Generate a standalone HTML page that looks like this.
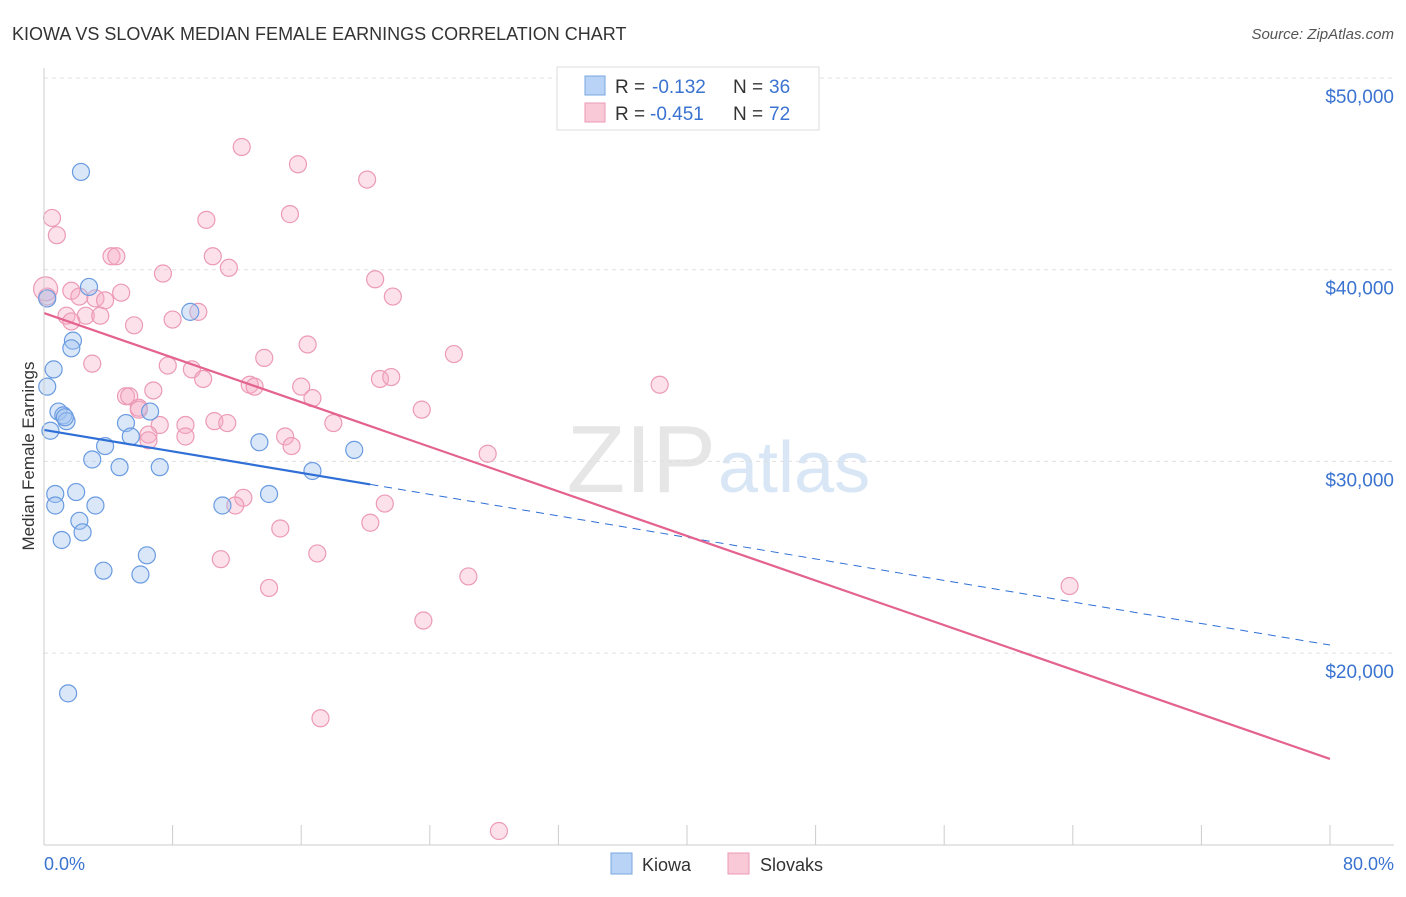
<!DOCTYPE html>
<html><head><meta charset="utf-8"><style>
body{margin:0;background:#fff;font-family:"Liberation Sans",sans-serif;}
svg text{font-family:"Liberation Sans",sans-serif;}
</style></head><body>
<svg id="c" width="1406" height="892">
<text x="12" y="40" font-size="18" fill="#333">KIOWA VS SLOVAK MEDIAN FEMALE EARNINGS CORRELATION CHART</text>
<text x="1394" y="39" font-size="15" fill="#555" font-style="italic" text-anchor="end">Source: ZipAtlas.com</text>
<text x="716" y="492" font-size="96" fill="#e6e6e6" text-anchor="end" font-family="Liberation Serif">ZIP</text>
<text x="718" y="492" font-size="72" fill="#d8e6f5">atlas</text>
<g id="grid"></g><g id="pts"></g><g id="lines"></g>
<line x1="44" y1="845" x2="1394" y2="845" stroke="#ccc"/>
<line x1="44" y1="68" x2="44" y2="845" stroke="#ccc"/>
<text x="44" y="870" font-size="18" fill="#3a73d0">0.0%</text>
<text x="1394" y="870" font-size="18" fill="#3a73d0" text-anchor="end">80.0%</text>
<text x="34" y="456" font-size="17" fill="#333" text-anchor="middle" transform="rotate(-90 34 456)">Median Female Earnings</text>
<g>
<rect x="557" y="67" width="262" height="63" fill="#fff" stroke="#ddd"/>
<rect x="585" y="76" width="20" height="19" fill="#b8d3f5" stroke="#7aa7e0"/>
<rect x="585" y="103" width="20" height="19" fill="#f9c9d8" stroke="#ec9ab5"/>
<text x="615" y="93" font-size="19" fill="#333">R =</text>
<text x="652" y="93" font-size="19" fill="#3a73d0">-0.132</text>
<text x="733" y="93" font-size="19" fill="#333">N =</text>
<text x="769" y="93" font-size="19" fill="#3a73d0">36</text>
<text x="615" y="120" font-size="19" fill="#333">R =</text>
<text x="650" y="120" font-size="19" fill="#3a73d0">-0.451</text>
<text x="733" y="120" font-size="19" fill="#333">N =</text>
<text x="769" y="120" font-size="19" fill="#3a73d0">72</text>
</g>
<g>
<rect x="611" y="853" width="21" height="21" fill="#b8d3f5" stroke="#7aa7e0"/>
<text x="642" y="871" font-size="18" fill="#333">Kiowa</text>
<rect x="728" y="853" width="21" height="21" fill="#f9c9d8" stroke="#ec9ab5"/>
<text x="760" y="871" font-size="18" fill="#333">Slovaks</text>
</g>
</svg>
<script>
const yTicks=[20000,30000,40000,50000];
const yTickLabels=["$20,000","$30,000","$40,000","$50,000"];
const xTicks=[0,8,16,24,32,40,48,56,64,72,80];
const kiowaX=[2.3,0.2,2.8,1.8,1.7,0.6,0.2,0.9,1.2,1.4,0.4,5.1,6.6,9.1,5.4,3.8,3.0,4.7,7.2,13.4,19.3,16.7,0.7,0.7,2.0,3.2,2.2,2.4,1.1,11.1,14.0,6.4,3.7,6.0,1.5,1.3];
const kiowaY=[45100,38500,39100,36300,35900,34800,33900,32600,32400,32100,31600,32000,32600,37800,31300,30800,30100,29700,29700,31000,30600,29500,28300,27700,28400,27700,26900,26300,25900,27700,28300,25100,24300,24100,17900,32300];
const slovX=[0.5,0.8,0.2,12.3,15.8,20.1,15.3,10.1,4.2,4.5,10.5,11.5,7.4,20.6,21.7,1.7,2.2,3.2,3.8,4.8,1.4,2.6,3.5,5.6,8.0,9.6,1.7,16.4,25.5,13.7,3.0,7.7,9.2,9.9,20.9,21.6,38.3,12.8,13.1,16.0,6.8,5.1,5.3,16.7,5.9,23.5,8.8,10.6,11.4,18.0,7.2,6.5,8.8,6.5,15.0,15.4,27.6,12.4,11.9,21.2,20.3,14.7,11.0,17.0,26.4,14.0,63.8,23.6,17.2,28.3,0.1,5.9];
const slovY=[42700,41800,38600,46400,45500,44700,42900,42600,40700,40700,40700,40100,39800,39500,38600,38900,38600,38500,38400,38800,37600,37600,37600,37100,37400,37800,37300,36100,35600,35400,35100,35000,34800,34300,34300,34400,34000,34000,33900,33900,33700,33400,33400,33300,32800,32700,31900,32100,32000,32000,31900,31400,31300,31100,31300,30800,30400,28100,27700,27800,26800,26500,24900,25200,24000,23400,23500,21700,16600,10720,39000,32700];
const kiowaTrendX=[0,20.3,80];
const kiowaTrendY=[31640,28800,20420];
const slovTrendX=[0,80];
const slovTrendY=[37740,14480];
const X=v=>44+v/80*1286, Y=v=>78+(50000-v)/10000*191.7;
const ns="http://www.w3.org/2000/svg";
function mk(t,a,p){const e=document.createElementNS(ns,t);for(const k in a)e.setAttribute(k,a[k]);p.appendChild(e);return e;}
const g=document.getElementById('grid');
yTicks.forEach((v,i)=>{
 const l=mk('line',{x1:44,x2:1394,y1:Y(v),y2:Y(v),stroke:'#e0e0e0','stroke-dasharray':'4,4'},g);
 
 
 const t=mk('text',{x:1394,y:Y(v)+25,'font-size':19,fill:'#3a73d0','text-anchor':'end'},g);
 t.textContent=yTickLabels[i];
 
 
});
xTicks.forEach(v=>{
 const l=mk('line',{x1:X(v),x2:X(v),y1:825,y2:845,stroke:'#ccc'},g);
 
 
});
const p=document.getElementById('pts');
slovX.forEach((x,i)=>{
 const c=mk('circle',{cx:X(x),cy:Y(slovY[i]),r:i==70?12:8.5,fill:'rgba(246,170,195,0.35)',stroke:'#ec9ab5','stroke-width':1.2},p);
 
 
});
kiowaX.forEach((x,i)=>{
 const c=mk('circle',{cx:X(x),cy:Y(kiowaY[i]),r:8.5,fill:'rgba(160,195,240,0.4)',stroke:'#6a9be0','stroke-width':1.2},p);
 
 
});
const L=document.getElementById('lines');
let e=mk('line',{x1:X(kiowaTrendX[0]),y1:Y(kiowaTrendY[0]),x2:X(kiowaTrendX[1]),y2:Y(kiowaTrendY[1]),stroke:'#2f6fd6','stroke-width':2.2},L);


e=mk('line',{x1:X(kiowaTrendX[1]),y1:Y(kiowaTrendY[1]),x2:X(kiowaTrendX[2]),y2:Y(kiowaTrendY[2]),stroke:'#2f6fd6','stroke-width':1,'stroke-dasharray':'8,6'},L);


e=mk('line',{x1:X(slovTrendX[0]),y1:Y(slovTrendY[0]),x2:X(slovTrendX[1]),y2:Y(slovTrendY[1]),stroke:'#e4628f','stroke-width':2.2},L);


</script>
</body></html>
